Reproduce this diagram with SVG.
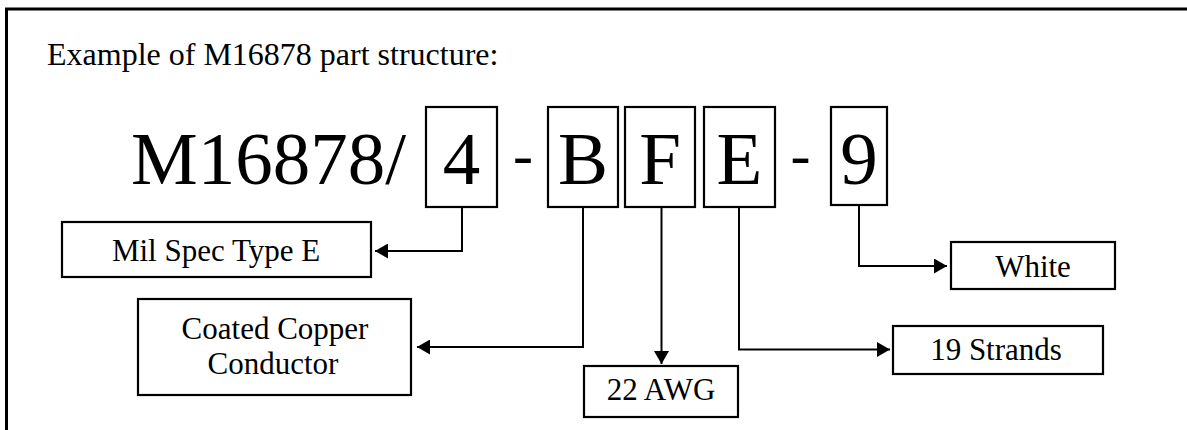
<svg xmlns="http://www.w3.org/2000/svg" width="1187" height="430" viewBox="0 0 1187 430">
<style>
  text { font-family: "Liberation Serif", "Times New Roman", serif; fill: #000; }
  .big { font-size: 75px; }
  .dash { font-size: 60px; text-anchor: middle; }
  .lbl { font-size: 31px; text-anchor: middle; }
  .title { font-size: 32px; }
  .box { fill: #fff; stroke: #000; stroke-width: 2.2; }
  .conn { fill: none; stroke: #000; stroke-width: 2; }
</style>
<defs>
  <marker id="arrow" markerUnits="userSpaceOnUse" markerWidth="14" markerHeight="15" viewBox="0 0 14 15" refX="13" refY="7.5" orient="auto">
    <path d="M0,0 L13,7.5 L0,15 z" fill="#000"/>
  </marker>
</defs>
<rect x="0" y="0" width="1187" height="430" fill="#fff"/>
<rect id="frame" x="6.5" y="9" width="1300" height="600" fill="none" stroke="#000" stroke-width="3"/>
<text id="title" class="title" x="47" y="65">Example of M16878 part structure:</text>

<g id="part-number">
  <text class="big" x="131" y="184">M16878/</text>
  <text class="dash" x="523" y="175">-</text>
  <text class="dash" x="800.5" y="175">-</text>
</g>
<g id="code-4">
  <rect class="box" x="426" y="107" width="71" height="100"/>
  <text class="big" x="461.5" y="184" text-anchor="middle">4</text>
</g>
<g id="code-B">
  <rect class="box" x="548" y="107" width="70" height="100"/>
  <text class="big" x="583" y="184" text-anchor="middle">B</text>
</g>
<g id="code-F">
  <rect class="box" x="625" y="107" width="70" height="100"/>
  <text class="big" x="660" y="184" text-anchor="middle">F</text>
</g>
<g id="code-E">
  <rect class="box" x="704" y="107" width="71" height="100"/>
  <text class="big" x="739.5" y="184" text-anchor="middle">E</text>
</g>
<g id="code-9">
  <rect class="box" x="831" y="107" width="56" height="98"/>
  <text class="big" x="859" y="184" text-anchor="middle">9</text>
</g>

<g id="connectors">
  <path class="conn" d="M462,207 V251 H375" marker-end="url(#arrow)"/>
  <path class="conn" d="M583,207 V347 H417" marker-end="url(#arrow)"/>
  <path class="conn" d="M661.5,207 V364" marker-end="url(#arrow)"/>
  <path class="conn" d="M739,207 V349.5 H890" marker-end="url(#arrow)"/>
  <path class="conn" d="M859,205 V266 H947" marker-end="url(#arrow)"/>
</g>

<g id="mil-spec">
  <rect class="box" x="62" y="222" width="309" height="55"/>
  <text class="lbl" x="216" y="261">Mil Spec Type E</text>
</g>
<g id="coated-copper">
  <rect class="box" x="138" y="299" width="273" height="96"/>
  <text class="lbl" x="275" y="339">Coated Copper</text>
  <text class="lbl" x="273" y="374">Conductor</text>
</g>
<g id="awg">
  <rect class="box" x="584" y="366" width="154" height="51"/>
  <text class="lbl" x="661" y="400">22 AWG</text>
</g>
<g id="strands">
  <rect class="box" x="893" y="326" width="210" height="48"/>
  <text class="lbl" x="996" y="360">19 Strands</text>
</g>
<g id="white">
  <rect class="box" x="951" y="242" width="164" height="47"/>
  <text class="lbl" x="1033" y="277">White</text>
</g>
</svg>
